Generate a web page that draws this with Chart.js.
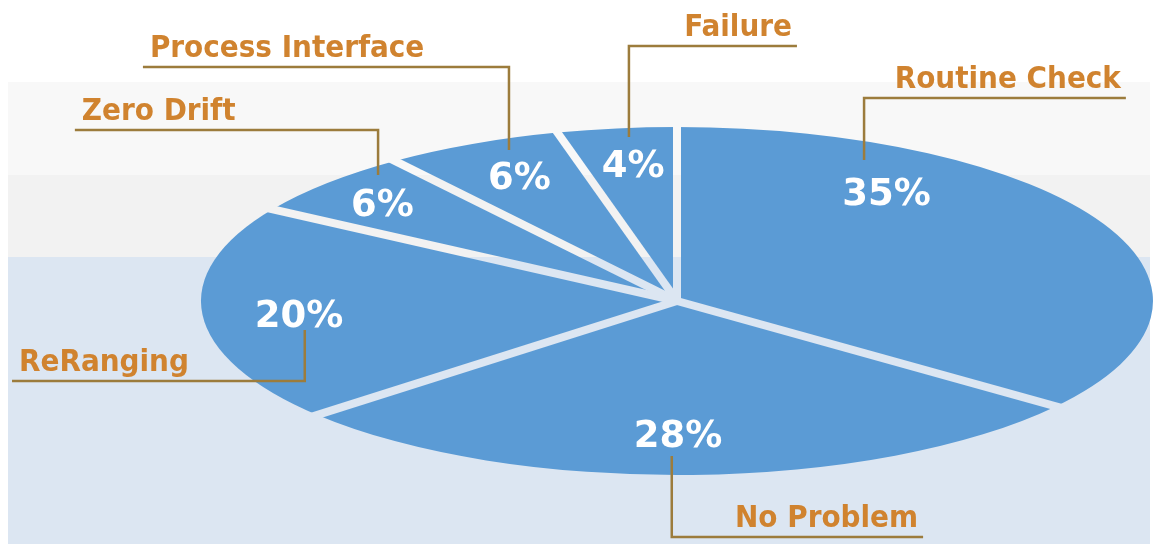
<!DOCTYPE html>
<html>
<head>
<meta charset="utf-8">
<script src="https://cdn.jsdelivr.net/npm/chart.js@4/dist/chart.umd.min.js"></script>
<style>
  html, body { margin: 0; padding: 0; background: #ffffff; }
  #wrap { position: relative; width: 1154px; height: 544px; overflow: hidden; }
  .band { position: absolute; left: 8px; right: 4px; }
  #chart { position: absolute; left: 0; top: 0; }
</style>
</head>
<body>
<div id="wrap">
  <div class="band" style="top:82px;height:93px;background:#f8f8f8"></div>
  <div class="band" style="top:175px;height:82px;background:#f2f2f2"></div>
  <div class="band" style="top:257px;bottom:0;background:#dce6f2"></div>
  <canvas id="chart" width="1154" height="544"></canvas>
</div>
<script>
// data
const categories = ['Routine Check', 'No Problem', 'ReRanging', 'Zero Drift', 'Process Interface', 'Failure'];
const shares = [35, 28, 20, 6, 6, 4];

// styling
const SLICE_BLUE = '#5b9bd5';
const LABEL_ORANGE = '#d0832f';
const LEADER_COLOR = '#9c7c3c';
const RX = 476;   // ellipse radii on screen
const RY = 174;
const GAP = 8;

// label layout, in units of the ellipse radii from its centre
// pct: [x, y] of the percent text
// lead: [x, yStart, yElbow, xEnd] of the leader line
const labelLayout = [
  { pct: [0.440, -0.629], lead: [0.393, -0.810, -1.167, 0.943] },
  { pct: [0.002, 0.759], lead: [-0.011, 0.891, 1.356, 0.517] },
  { pct: [-0.794, 0.069], lead: [-0.782, 0.167, 0.460, -1.397] },
  { pct: [-0.619, -0.566], lead: [-0.628, -0.724, -0.983, -1.265] },
  { pct: [-0.331, -0.721], lead: [-0.353, -0.868, -1.345, -1.122] },
  { pct: [-0.092, -0.793], lead: [-0.101, -0.943, -1.466, 0.252] }
];

// squash the round pie into an ellipse
const ellipsePlugin = {
  id: 'ellipse',
  beforeDatasetsDraw(chart) {
    const arc = chart.getDatasetMeta(0).data[0];
    const ctx = chart.ctx;
    ctx.save();
    ctx.translate(arc.x, arc.y);
    ctx.scale(RX / arc.outerRadius, RY / arc.outerRadius);
    ctx.translate(-arc.x, -arc.y);
  },
  afterDatasetsDraw(chart) {
    const ctx = chart.ctx;
    ctx.restore();
    const arcs = chart.getDatasetMeta(0).data;
    const cx = arcs[0].x, cy = arcs[0].y;

    // cut the gaps between slices
    ctx.save();
    ctx.globalCompositeOperation = 'destination-out';
    ctx.lineWidth = GAP;
    ctx.strokeStyle = '#000';
    arcs.forEach(a => {
      const t = a.startAngle;
      ctx.beginPath();
      ctx.moveTo(cx, cy);
      ctx.lineTo(cx + RX * 1.1 * Math.cos(t), cy + RY * 1.1 * Math.sin(t));
      ctx.stroke();
    });
    ctx.restore();

    // labels
    ctx.save();
    arcs.forEach((a, i) => {
      const lay = labelLayout[i];
      const px = cx + lay.pct[0] * RX;
      const py = cy + lay.pct[1] * RY;
      ctx.fillStyle = '#ffffff';
      ctx.font = 'bold 37px "DejaVu Sans"';
      ctx.textAlign = 'center';
      ctx.textBaseline = 'alphabetic';
      ctx.fillText(shares[i] + '%', px, py + 13.5);

      const lx = cx + lay.lead[0] * RX;
      const y0 = cy + lay.lead[1] * RY;
      const y1 = cy + lay.lead[2] * RY;
      const x1 = cx + lay.lead[3] * RX;
      ctx.strokeStyle = LEADER_COLOR;
      ctx.lineWidth = 2.5;
      ctx.beginPath();
      ctx.moveTo(lx, y0);
      ctx.lineTo(lx, y1);
      ctx.lineTo(x1, y1);
      ctx.stroke();

      const goesRight = x1 > lx;
      ctx.fillStyle = LABEL_ORANGE;
      ctx.font = 'bold 31px "DejaVu Sans Condensed", "DejaVu Sans"';
      ctx.textAlign = goesRight ? 'right' : 'left';
      ctx.fillText(categories[i], goesRight ? x1 - 5 : x1 + 7, y1 - 10);
    });
    ctx.restore();
  }
};

new Chart(document.getElementById('chart'), {
  type: 'pie',
  data: {
    labels: categories,
    datasets: [{
      data: shares,
      backgroundColor: SLICE_BLUE,
      borderWidth: 0
    }]
  },
  options: {
    responsive: false,
    devicePixelRatio: 1,
    animation: false,
    events: [],
    layout: { padding: { left: 200, right: 0, top: 58, bottom: 0 } },
    plugins: {
      legend: { display: false },
      tooltip: { enabled: false }
    }
  },
  plugins: [ellipsePlugin]
});
</script>
</body>
</html>
